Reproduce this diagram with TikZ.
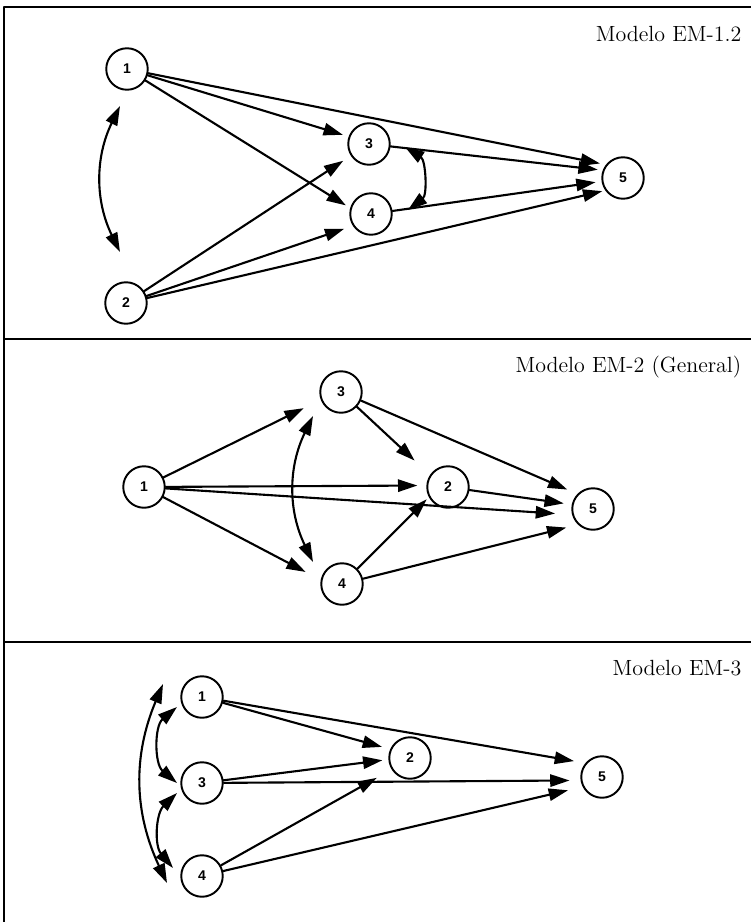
\documentclass[tikz,border=0pt]{standalone}
\usepackage{fontspec}
\usetikzlibrary{arrows.meta}
\newfontfamily\numfont{Liberation Sans}

\begin{document}
\begin{tikzpicture}[line join=round,line cap=round,>={Triangle[length=11pt,width=7pt]},
	nodo/.style={draw,circle,line width=1.1pt,minimum size=0.83cm,inner sep=0pt,font=\numfont\bfseries\fontsize{8}{9}\selectfont},
	flecha/.style={->,line width=1.2pt},
	doble/.style={<->,line width=1.2pt},
	titulo/.style={anchor=base east,font=\fontsize{12.5}{15}\selectfont}]
	\useasboundingbox (0,0) rectangle (15.02,-18.44);
	% Marco y separaciones
	\draw[line width=0.6pt] (15.02,-0.14) -- (0.08,-0.14) -- (0.08,-18.44);
	\draw[line width=0.6pt] (0.08,-6.78) -- (15.02,-6.78);
	\draw[line width=0.6pt] (0.08,-12.84) -- (15.02,-12.84);
	
	% Modelo EM-1.2
	\node[titulo] at (14.95,-0.82) {Modelo EM-1.2};
	\node[nodo] (a1) at (2.54,-1.38) {1};
	\node[nodo] (a2) at (2.52,-6.06) {2};
	\node[nodo] (a3) at (7.38,-2.88) {3};
	\node[nodo] (a4) at (7.42,-4.28) {4};
	\node[nodo] (a5) at (12.46,-3.56) {5};
	\foreach \s/\t/\a/\g in {a1/a3/160/1.2mm, a1/a4/164/1mm, a1/a5/142/1.2mm, a2/a3/213/1.8mm,
		a2/a4/213/1.8mm, a2/a5/215/0.6mm, a3/a5/159/1mm, a4/a5/189/1.2mm}{
		\draw[flecha,shorten >=\g] (\s) -- (\t.\a);
	}
	\path
	(2.40,-2.12) coordinate (a12s)
	(2.40,-5.04) coordinate (a12i)
	(8.10,-2.94) coordinate (a34s)
	(8.16,-4.20) coordinate (a34i);
	\draw[doble] (a12s) to[bend right=26] (a12i);
	\draw[doble] (a34s) to[bend left=55] (a34i);
	
	% Modelo EM-2 (General)
	\node[titulo] at (14.95,-7.44) {Modelo EM-2 (General)};
	\node[nodo] (b1) at (2.88,-9.74) {1};
	\node[nodo] (b3) at (6.82,-7.84) {3};
	\node[nodo] (b2) at (8.96,-9.74) {2};
	\node[nodo] (b4) at (6.84,-11.68) {4};
	\node[nodo] (b5) at (11.86,-10.18) {5};
	\foreach \s/\t/\a/\g in {b1/b3/201/3.8mm, b1/b2/176/1.8mm, b1/b5/195/3.4mm, b1/b4/169/3.4mm,
		b3/b2/146/4.2mm, b3/b5/136/2.2mm, b4/b2/208/0.6mm, b4/b5/226/2.4mm, b2/b5/168/1.6mm}{
		\draw[flecha,shorten >=\g] (\s) -- (\t.\a);
	}
	\path
	(6.26,-8.32) coordinate (b34s)
	(6.26,-11.24) coordinate (b34i);
	\draw[doble] (b34s) to[bend right=26] (b34i);
	
	% Modelo EM-3
	\node[titulo] at (14.95,-13.50) {Modelo EM-3};
	\node[nodo] (c1) at (4.04,-13.94) {1};
	\node[nodo] (c3) at (4.04,-15.66) {3};
	\node[nodo] (c4) at (4.04,-17.52) {4};
	\node[nodo] (c2) at (8.20,-15.16) {2};
	\node[nodo] (c5) at (12.04,-15.54) {5};
	\foreach \s/\t/\a/\g in {c1/c2/156/1.7mm, c1/c5/140/2.3mm, c3/c2/184/1.2mm,
		c3/c5/189/2.2mm, c4/c2/212/3.4mm, c4/c5/207/3mm}{
		\draw[flecha,shorten >=\g] (\s) -- (\t.\a);
	}
	\path
	(3.26,-13.68) coordinate (c14s)
	(3.34,-17.66) coordinate (c14i)
	(3.54,-14.14) coordinate (c13s)
	(3.54,-15.66) coordinate (c13i)
	(3.54,-15.86) coordinate (c34s)
	(3.46,-17.36) coordinate (c34i);
	\draw[doble] (c14s) to[bend right=24] (c14i);
	\draw[doble] (c13s) to[bend right=50] (c13i);
	\draw[doble] (c34s) to[bend right=43] (c34i);
\end{tikzpicture}
\end{document}
